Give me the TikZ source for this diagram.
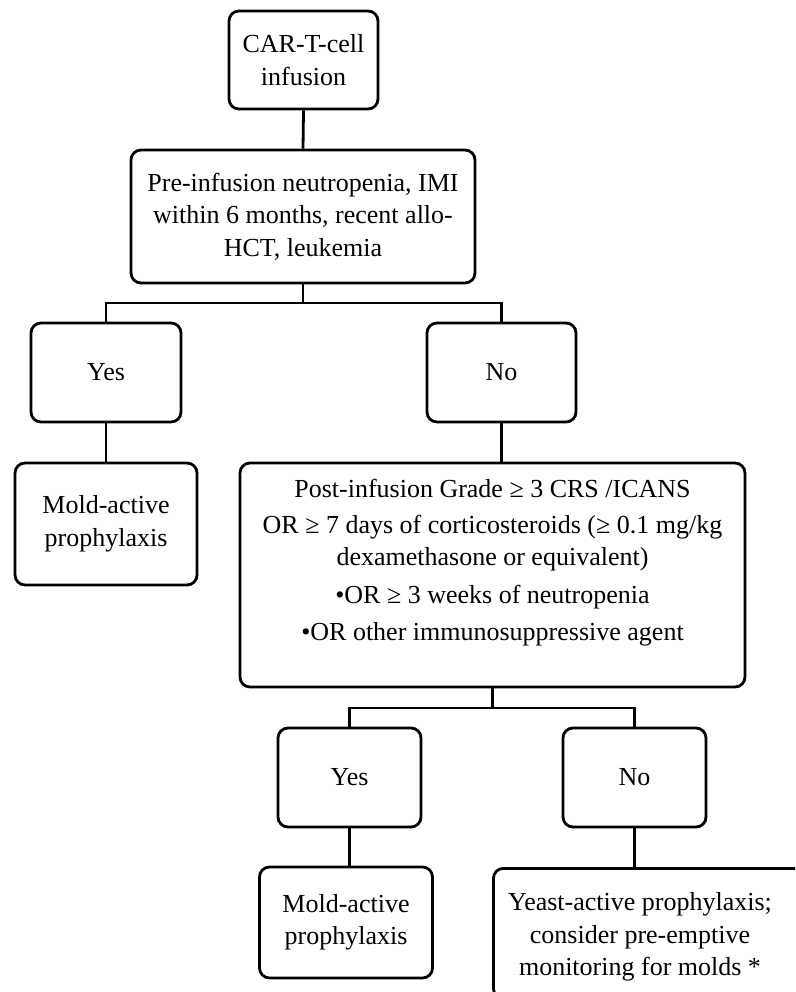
\documentclass[tikz,border=0pt]{standalone}
\usepackage{fontspec}
\setmainfont{Liberation Serif}
\begin{document}
\begin{tikzpicture}[x=1pt,y=-1pt,
  box/.style={draw, line width=2.8pt, rounded corners=10pt, align=center, inner sep=0pt},
  txt/.style={align=center, inner sep=0pt},
  conn/.style={line width=2.8pt}]
\fontsize{26}{32.5}\selectfont
\useasboundingbox (0,0) rectangle (795,992);
\clip (0,0) rectangle (795,992);
\node[box, minimum width=149pt, minimum height=98pt] (car) at (303.5,60) {CAR-T-cell\\infusion};
\node[box, minimum width=344pt, minimum height=133pt] (pre) at (303,216.5) {Pre-infusion neutropenia, IMI\\within 6 months, recent allo-\\HCT, leukemia};
\node[box, minimum width=150pt, minimum height=99pt] (yes1) at (106,372.5) {Yes};
\node[box, minimum width=149pt, minimum height=99pt] (no1) at (501.5,372.5) {No};
\node[box, minimum width=182pt, minimum height=122pt] (mold1) at (106,524) {Mold-active\\prophylaxis};
\node[box, minimum width=505pt, minimum height=224pt] (big) at (492.5,575) {};
\node[txt] (bigtxt) at (492.5,563) {Post-infusion Grade ≥ 3 CRS /ICANS\\[3pt]
OR ≥ 7 days of corticosteroids (≥ 0.1 mg/kg\\dexamethasone or equivalent)\\[5pt]
•OR ≥ 3 weeks of neutropenia\\[5pt]
•OR other immunosuppressive agent};
\node[box, minimum width=143pt, minimum height=99pt] (yes2) at (349.5,777.5) {Yes};
\node[box, minimum width=143pt, minimum height=99pt] (no2) at (634.5,777.5) {No};
\node[box, minimum width=173pt, minimum height=111pt] (mold2) at (346,922.5) {Mold-active\\prophylaxis};
\node[box, minimum width=340pt, minimum height=130pt, anchor=north west] (yeast) at (492,867) {};
\node[txt] (yeasttxt) at (640,937) {Yeast-active prophylaxis;\\consider pre-emptive\\monitoring for molds *};
\coordinate (j1) at (303,303);
\coordinate (j2) at (492.5,708);
\draw[conn] (car.south) -- (pre.north);
\draw[conn] (pre.south) -- (j1);
\draw[conn] (yes1.north) |- (j1) -| (no1.north);
\draw[conn] (yes1.south) -- (mold1.north);
\draw[conn] (no1.south) -- (no1.south |- big.north);
\draw[conn] (big.south) -- (j2);
\draw[conn] (yes2.north) |- (j2) -| (no2.north);
\draw[conn] (yes2.south) -- (yes2.south |- mold2.north);
\draw[conn] (no2.south) -- (no2.south |- yeast.north);
\end{tikzpicture}
\end{document}
